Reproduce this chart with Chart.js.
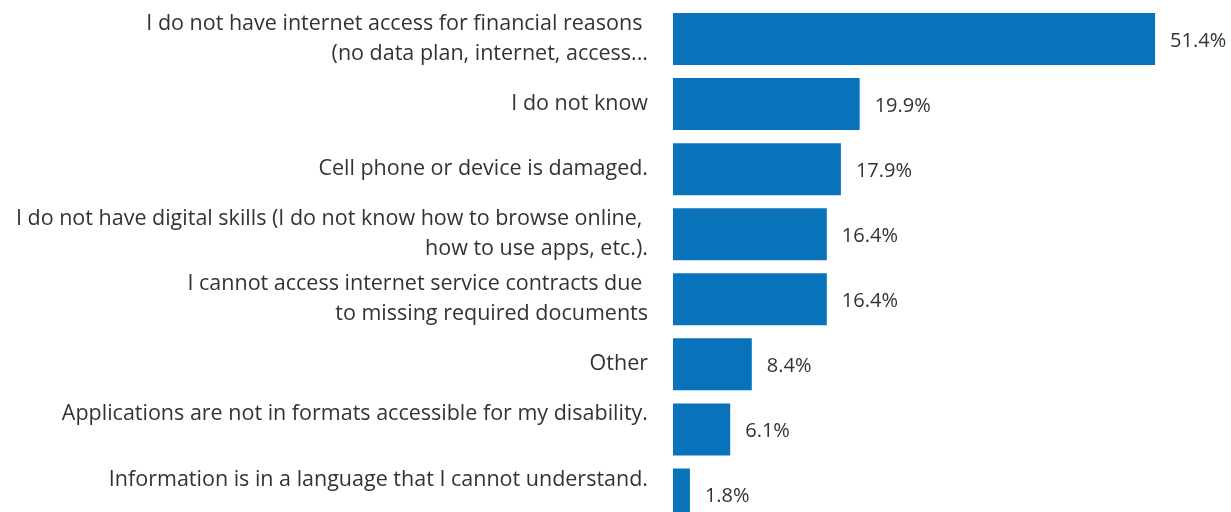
<!DOCTYPE html>
<html>
<head>
<meta charset="utf-8">
<script src="https://cdn.jsdelivr.net/npm/chart.js@4"></script>
<style>
  html, body { margin: 0; padding: 0; background: #fff; overflow: hidden; }
  #wrap { width: 1231px; height: 527px; }
</style>
</head>
<body>
<div id="wrap"><canvas id="barriers-chart" width="1231" height="527"></canvas></div>
<script>
const reasons = [
  ["I do not have internet access for financial reasons ", "(no data plan, internet, access..."],
  "I do not know",
  "Cell phone or device is damaged.",
  ["I do not have digital skills (I do not know how to browse online, ", "how to use apps, etc.)."],
  ["I cannot access internet service contracts due ", "to missing required documents"],
  "Other",
  ["Applications are not in formats accessible for my disability.", ""],
  ["Information is in a language that I cannot understand.", ""]
];
const shares = [51.4, 19.9, 17.9, 16.4, 16.4, 8.4, 6.1, 1.8];

const textColor = '#333333';
const fontFamily = '"Open Sans", Lato, sans-serif';

// writes the percentage just past the end of each bar
const valueLabels = {
  id: 'valueLabels',
  afterDatasetsDraw(chart) {
    const ctx = chart.ctx;
    const meta = chart.getDatasetMeta(0);
    ctx.save();
    ctx.font = `20px ${fontFamily}`;
    ctx.fillStyle = textColor;
    ctx.textAlign = 'left';
    ctx.textBaseline = 'middle';
    meta.data.forEach((bar, i) => {
      ctx.fillText(`${shares[i].toFixed(1)}%`, bar.x + 15, bar.y + 2);
    });
    ctx.restore();
  }
};

const ctx = document.getElementById('barriers-chart').getContext('2d');
new Chart(ctx, {
  type: 'bar',
  data: {
    labels: reasons,
    datasets: [{
      data: shares,
      backgroundColor: '#0872BA',
      borderWidth: 0,
      barPercentage: 0.8,
      categoryPercentage: 1
    }]
  },
  options: {
    indexAxis: 'y',
    responsive: false,
    animation: false,
    devicePixelRatio: 1,
    layout: {
      padding: { top: 6.5, right: 14, bottom: 0, left: 0 }
    },
    scales: {
      x: {
        display: false,
        min: 0,
        max: 58
      },
      y: {
        // fixed axis width, and no extra room reserved for the outer labels
        afterFit: (scale) => {
          scale.width = 673;
          scale.paddingTop = 0;
          scale.paddingBottom = 0;
        },
        grid: { display: false },
        border: { display: false },
        ticks: {
          padding: 17,
          color: textColor,
          font: { family: fontFamily, size: 21.5, lineHeight: 1.4 }
        }
      }
    },
    plugins: {
      legend: { display: false },
      tooltip: { enabled: false }
    }
  },
  plugins: [valueLabels]
});
</script>
</body>
</html>
